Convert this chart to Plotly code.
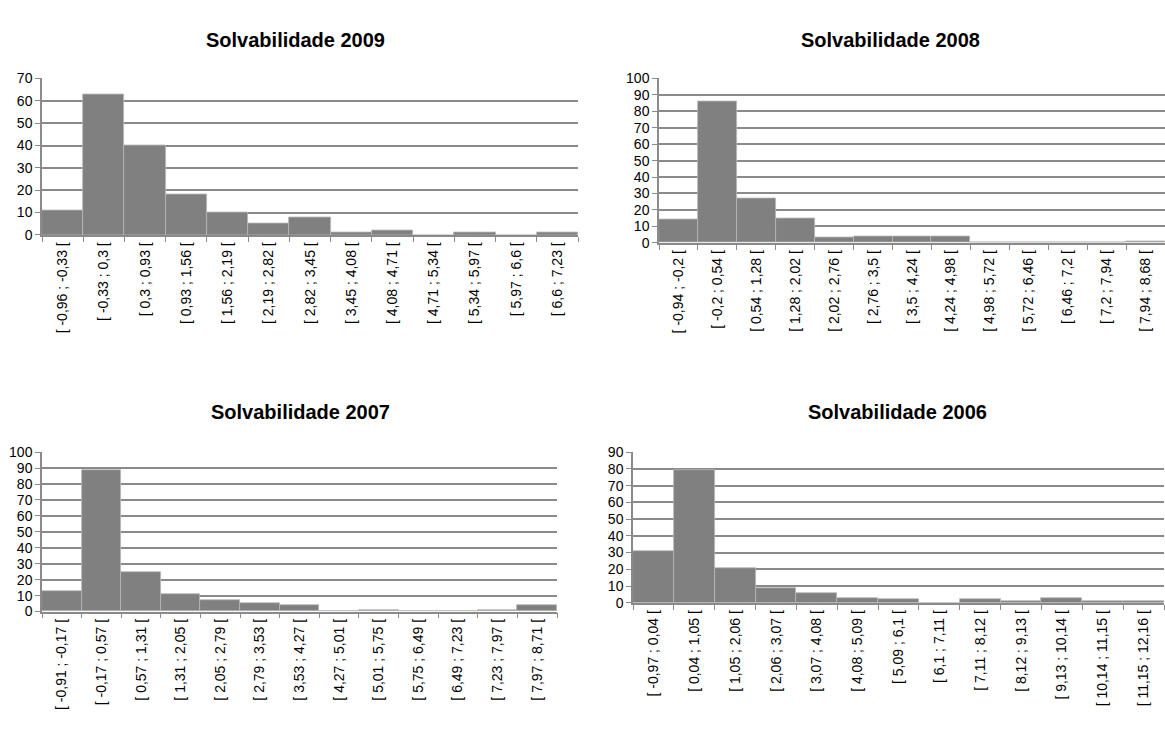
import plotly.graph_objects as go

titles = ["Solvabilidade 2009", "Solvabilidade 2008", "Solvabilidade 2007", "Solvabilidade 2006"]

cats_2009 = ["[ -0,96 ; -0,33 [", "[ -0,33 ; 0,3 [", "[ 0,3 ; 0,93 [", "[ 0,93 ; 1,56 [", "[ 1,56 ; 2,19 [",
             "[ 2,19 ; 2,82 [", "[ 2,82 ; 3,45 [", "[ 3,45 ; 4,08 [", "[ 4,08 ; 4,71 [", "[ 4,71 ; 5,34 [",
             "[ 5,34 ; 5,97 [", "[ 5,97 ; 6,6 [", "[ 6,6 ; 7,23 ["]
vals_2009 = [11, 63, 40, 18, 10, 5, 8, 1, 2, 0, 1, 0, 1]

cats_2008 = ["[ -0,94 ; -0,2 [", "[ -0,2 ; 0,54 [", "[ 0,54 ; 1,28 [", "[ 1,28 ; 2,02 [", "[ 2,02 ; 2,76 [",
             "[ 2,76 ; 3,5 [", "[ 3,5 ; 4,24 [", "[ 4,24 ; 4,98 [", "[ 4,98 ; 5,72 [", "[ 5,72 ; 6,46 [",
             "[ 6,46 ; 7,2 [", "[ 7,2 ; 7,94 [", "[ 7,94 ; 8,68 ["]
vals_2008 = [14, 86, 27, 15, 3, 4, 4, 4, 0, 0, 0, 0, 1]

cats_2007 = ["[ -0,91 ; -0,17 [", "[ -0,17 ; 0,57 [", "[ 0,57 ; 1,31 [", "[ 1,31 ; 2,05 [", "[ 2,05 ; 2,79 [",
             "[ 2,79 ; 3,53 [", "[ 3,53 ; 4,27 [", "[ 4,27 ; 5,01 [", "[ 5,01 ; 5,75 [", "[ 5,75 ; 6,49 [",
             "[ 6,49 ; 7,23 [", "[ 7,23 ; 7,97 [", "[ 7,97 ; 8,71 ["]
vals_2007 = [13, 89, 25, 11, 7, 5, 4, 0, 1, 0, 0, 1, 4]

cats_2006 = ["[ -0,97 ; 0,04 [", "[ 0,04 ; 1,05 [", "[ 1,05 ; 2,06 [", "[ 2,06 ; 3,07 [", "[ 3,07 ; 4,08 [",
             "[ 4,08 ; 5,09 [", "[ 5,09 ; 6,1 [", "[ 6,1 ; 7,11 [", "[ 7,11 ; 8,12 [", "[ 8,12 ; 9,13 [",
             "[ 9,13 ; 10,14 [", "[ 10,14 ; 11,15 [", "[ 11,15 ; 12,16 ["]
vals_2006 = [31, 79, 21, 9, 6, 3, 2, 0, 2, 1, 3, 1, 1]

y_max = [70, 100, 100, 90]

W, H = 1165, 735
# plot areas in pixels: (left, right, top, bottom)
areas = [(42, 578, 72, 232), (659, 1165, 72, 240), (42, 557, 454, 617), (633, 1164, 454, 608)]
title_pos = [(295, 33), (890, 33), (300, 413), (897, 413)]

data = [(cats_2009, vals_2009), (cats_2008, vals_2008), (cats_2007, vals_2007), (cats_2006, vals_2006)]

fig = go.Figure()
font_family = "Liberation Sans, Arial, sans-serif"
grid = "#8a8a8a"

layout = dict(width=W, height=H, margin=dict(l=0, r=0, t=0, b=0),
              paper_bgcolor="white", plot_bgcolor="white", showlegend=False,
              bargap=0, font=dict(family=font_family, size=14, color="black"))
annotations = []
for i, ((cats, vals), (l, r, t, b), ymax, title, (tx, ty)) in enumerate(zip(data, areas, y_max, titles, title_pos)):
    n = "" if i == 0 else str(i + 1)
    fig.add_trace(go.Bar(x=cats, y=vals, xaxis="x" + n, yaxis="y" + n,
                         marker=dict(color="#808080", line=dict(color="#b8b8b8", width=0.8))))
    layout["xaxis" + n] = dict(domain=[l / W, r / W], anchor="y" + n, type="category",
                               tickangle=-90, ticks="outside", ticklen=5, tickcolor=grid,
                               tickson="boundaries", showline=True, linecolor=grid, linewidth=1.5,
                               showgrid=False, tickfont=dict(size=14), fixedrange=True)
    layout["yaxis" + n] = dict(domain=[1 - b / H, 1 - t / H], anchor="x" + n, range=[0, ymax],
                               dtick=10, ticks="outside", ticklen=5, tickcolor=grid,
                               showline=True, linecolor=grid, linewidth=1.5,
                               showgrid=True, gridcolor=grid, gridwidth=1.5,
                               zeroline=False, tickfont=dict(size=14), fixedrange=True)
    annotations.append(dict(text="<b>" + title + "</b>", x=tx / W, y=1 - ty / H,
                            xref="paper", yref="paper", showarrow=False,
                            xanchor="center", yanchor="middle",
                            font=dict(size=20, family=font_family, color="black")))
layout["annotations"] = annotations
fig.update_layout(**layout)
fig.write_html("out.html", config={"displayModeBar": False},
               post_script="document.body.style.margin='0';document.documentElement.style.overflow='hidden';")
